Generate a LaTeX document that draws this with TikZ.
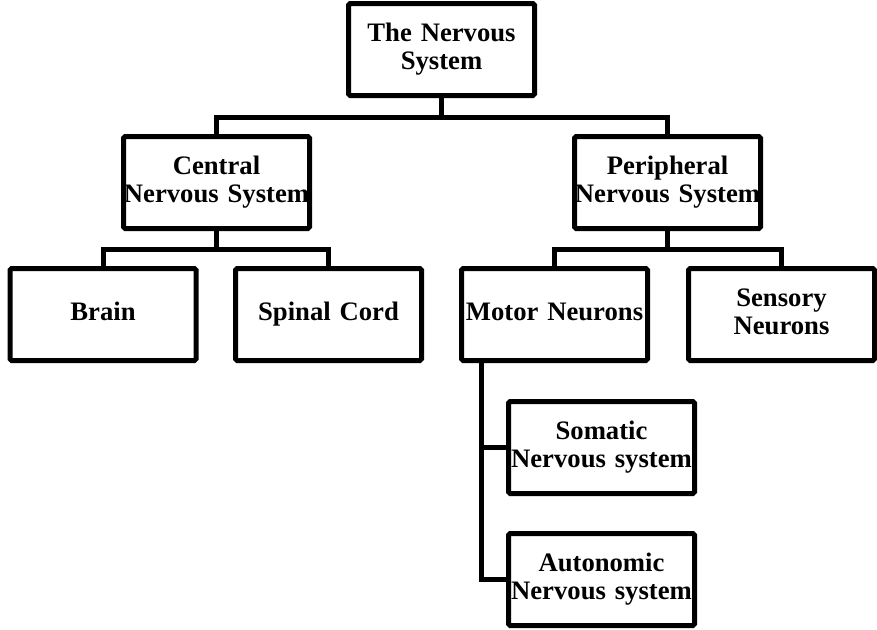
\documentclass[tikz,border=0pt]{standalone}
\usepackage{fontspec}
\setmainfont{Liberation Serif}
\begin{document}
\begin{tikzpicture}[x=0.75pt,y=-0.75pt,
  box/.style={draw=black, line width=3.75pt, rounded corners=1.2pt, fill=white,
    minimum width=139.5pt, minimum height=69pt, inner sep=0pt,
    text width=139.5pt, align=center, font=\fontsize{20}{21}\selectfont\bfseries,
    execute at begin node=\strut, execute at end node=\strut},
  link/.style={draw=black, line width=3.75pt}]
\useasboundingbox (0,0) rectangle (877,629);
\node[box] (top) at (441.5,49.5) {The Nervous\\System};
\node[box] (cns) at (216.5,182.5) {Central\\Nervous System};
\node[box] (pns) at (667.5,182.5) {Peripheral\\Nervous System};
\node[box] (brain) at (103,314.5) {Brain};
\node[box] (spinal) at (328.5,314.5) {Spinal Cord};
\node[box] (motor) at (554.5,314.5) {Motor Neurons};
\node[box] (sensory) at (781.5,314.5) {Sensory\\Neurons};
\node[box] (som) at (601.5,447.5) {Somatic\\Nervous system};
\node[box] (auto) at (601.5,579.5) {Autonomic\\Nervous system};
\coordinate (j1) at (441.5,117);
\coordinate (j2) at (216.5,249.5);
\coordinate (j3) at (667.5,249.5);
\coordinate (mtop) at (481,361);
\draw[link] (cns.north) |- (j1) -| (pns.north);
\draw[link] (top.south) -- (j1);
\draw[link] (brain.north) |- (j2) -| (spinal.north);
\draw[link] (cns.south) -- (j2);
\draw[link] (motor.north) |- (j3) -| (sensory.north);
\draw[link] (pns.south) -- (j3);
\draw[link] (mtop) |- (auto.west);
\draw[link] (mtop |- som.west) -- (som.west);
\end{tikzpicture}
\end{document}
